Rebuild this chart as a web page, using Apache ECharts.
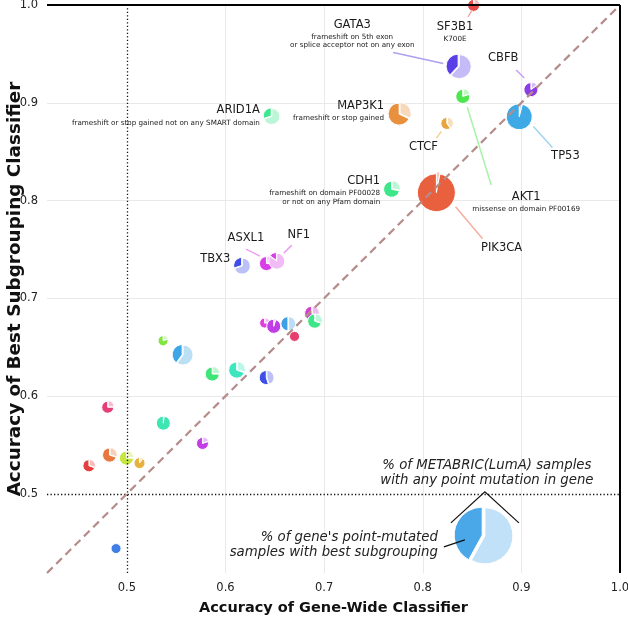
<!DOCTYPE html>
<html><head><meta charset="utf-8">
<script src="https://cdn.jsdelivr.net/npm/echarts@6/dist/echarts.min.js"></script>
<style>html,body{margin:0;padding:0;background:#fff}#c{width:628px;height:617px}</style>
</head><body><div id="c"></div>
<script>
// ---------------- data ----------------
const genes = ['SF3B1','GATA3','CBFB','AKT1','TP53','MAP3K1','CTCF','ARID1A','PIK3CA','CDH1','TBX3','ASXL1','NF1',
  '','','','','','','','','','','','','','','','','','',''];
const geneWideAcc = [0.852,0.837,0.910,0.841,0.898,0.777,0.825,0.647,0.814,0.769,0.617,0.642,0.652,
  0.688,0.691,0.640,0.649,0.664,0.670,0.557,0.587,0.612,0.642,0.537,0.481,0.537,0.577,0.483,0.500,0.513,0.462,0.489];
const bestSubgroupAcc = [1.000,0.937,0.914,0.907,0.887,0.889,0.879,0.886,0.810,0.812,0.733,0.736,0.738,
  0.685,0.677,0.675,0.672,0.674,0.661,0.642,0.623,0.627,0.619,0.657,0.589,0.573,0.552,0.540,0.537,0.532,0.529,0.444];
const mutatedPct = [4.6,18.4,6.3,6.3,21.6,15.4,4.6,8.2,46,8.2,8.2,6.3,8.2,
  6.3,6.3,3.2,6.3,6.3,3.2,12.8,6.3,8.2,6.3,3.2,4.6,6.3,4.6,6.3,6.3,3.9,4.6,3.2];
const bestSubgroupShare = [0.75,0.38,0.85,0.80,0.96,0.68,0.60,0.30,0.97,0.72,0.30,0.75,0.15,
  0.65,0.70,0.75,0.95,0.50,1.00,0.40,0.75,0.70,0.55,0.80,0.75,0.98,0.80,0.70,0.75,0.90,0.70,1.00];
const geneColors = ['#e84a4a','#5a3ee6','#8a3ee6','#4ee64e','#3fa9e6','#e8903e','#e8a43e','#3ee68e','#e8603e','#3ee68a','#3e4ee6','#d83ee6','#d83ee6',
  '#d63ed0','#3ee68a','#e03ee0','#c03ee6','#3e9ee6','#e63e6e','#3ea6e6','#3ee67a','#3ee6c0','#3e4ee6','#7ee63e','#e63e78','#3ee6b4','#c43ee6','#e8783e','#c4e63e','#e8b03e','#e63e3e','#3e7ee6'];
const tickValues = [0.5,0.6,0.7,0.8,0.9,1.0];
const gridValues = [0.6,0.7,0.8,0.9];
const axisMin = 0.419, axisMax = 1.0;
// legend key pie: [x, y, pct, share]
const keyPie = [0.863,0.457,100,0.42];
const keyColor = '#4aa8e8';

// ---------------- styling / layout ----------------
const FONT = 'DejaVu Sans';
const R_SCALE = 2.8;
const labelLayout = {
  SF3B1: {dx:-19, dy:22, sub:['K700E'], lead:[[-6,12],[-2,5]]},
  GATA3: {dx:-107, dy:-42, sub:['frameshift on 5th exon','or splice acceptor not on any exon'], lead:[[-66,-14],[-16,-3]]},
  CBFB: {dx:-28, dy:-31, lead:[[-15,-19],[-7,-11]]},
  AKT1: {dx:63, dy:101, sub:['missense on domain PF00169'], lead:[[4,11],[28,89]]},
  TP53: {dx:46, dy:41, lead:[[14,11],[33,32]]},
  MAP3K1: {dx:-16, dy:-8, align:'right', sub:['frameshift or stop gained']},
  CTCF: {dx:-24, dy:24, lead:[[-6,8],[-11,15]]},
  ARID1A: {dx:-12, dy:-6, align:'right', sub:['frameshift or stop gained not on any SMART domain']},
  PIK3CA: {dx:65, dy:57, lead:[[19,16],[46,48]]},
  CDH1: {dx:-12, dy:-8, align:'right', sub:['frameshift on domain PF00028','or not on any Pfam domain']},
  TBX3: {dx:-12, dy:-7, align:'right'},
  ASXL1: {dx:-21, dy:-25, lead:[[-21,-14],[-7,-7]]},
  NF1: {dx:22, dy:-26, lead:[[15,-16],[7,-8]]}
};

function mix(hex, t){
  const n = parseInt(hex.slice(1),16);
  let r=(n>>16)&255, g=(n>>8)&255, b=n&255;
  r=Math.round(r+(255-r)*t); g=Math.round(g+(255-g)*t); b=Math.round(b+(255-b)*t);
  return 'rgb('+r+','+g+','+b+')';
}

function pieShapes(cx, cy, r, f, col){
  const a0 = -Math.PI/2;
  const out = [];
  const e = 0.1*r;
  if (f < 0.999) {
    out.push({type:'sector', shape:{cx:cx, cy:cy, r:r, r0:0, startAngle:a0, endAngle:a0+2*Math.PI*(1-f), clockwise:true},
      style:{fill:mix(col,0.65), stroke:'#fff', lineWidth:1}});
    const mid = a0 - Math.PI*f;
    const ox = Math.cos(mid)*e, oy = Math.sin(mid)*e;
    out.push({type:'sector', shape:{cx:cx+ox, cy:cy+oy, r:r, r0:0, startAngle:a0-2*Math.PI*f, endAngle:a0, clockwise:true},
      style:{fill:col, stroke:'#fff', lineWidth:1}});
  } else {
    out.push({type:'circle', shape:{cx:cx, cy:cy, r:r}, style:{fill:col, stroke:'#fff', lineWidth:1}});
  }
  return out;
}

const pieData = genes.map((g,i)=>[geneWideAcc[i], bestSubgroupAcc[i], mutatedPct[i], bestSubgroupShare[i]]);

function lineItem(x1,y1,x2,y2){ return {coords:[[x1,y1],[x2,y2]]}; }

const chart = echarts.init(document.getElementById('c'), null, {renderer:'canvas'});
const option = {
  animation:false,
  backgroundColor:'#fff',
  grid:{left:47, right:8, top:5, bottom:44, containLabel:false, outerBoundsMode:'none'},
  xAxis:{type:'value', min:axisMin, max:axisMax,
    name:'Accuracy of Gene-Wide Classifier', nameLocation:'middle', nameGap:28, nameMoveOverlap:false,
    nameTextStyle:{fontFamily:FONT, fontWeight:'bold', fontSize:14.5, color:'#111'},
    axisLine:{show:false}, axisTick:{show:false}, splitLine:{show:false},
    axisLabel:{customValues:tickValues, formatter:v=>v.toFixed(1), fontFamily:FONT, fontSize:11.5, color:'#222', margin:9, showMaxLabel:true}},
  yAxis:{type:'value', min:axisMin, max:axisMax,
    name:'Accuracy of Best Subgrouping Classifier', nameLocation:'middle', nameGap:23, nameMoveOverlap:false,
    nameTextStyle:{fontFamily:FONT, fontWeight:'bold', fontSize:18.4, color:'#111'},
    axisLine:{show:false}, axisTick:{show:false}, splitLine:{show:false},
    axisLabel:{customValues:tickValues, formatter:v=>v.toFixed(1), fontFamily:FONT, fontSize:11.5, color:'#222', margin:9, showMaxLabel:true}},
  series:[
    {type:'lines', coordinateSystem:'cartesian2d', z:1, silent:true,
      lineStyle:{color:'#e9e9e9', width:1, opacity:1},
      data: gridValues.map(v=>lineItem(axisMin,v,axisMax,v)).concat(gridValues.map(v=>lineItem(v,axisMin,v,axisMax)))},
    {type:'custom', coordinateSystem:'cartesian2d', z:3, clip:false, silent:true,
      data: pieData,
      renderItem:function(params, api){
        const c = api.coord([api.value(0), api.value(1)]);
        const r = R_SCALE*Math.sqrt(api.value(2));
        return {type:'group', children: pieShapes(c[0], c[1], r, api.value(3), geneColors[params.dataIndex])};
      }},
    {type:'custom', coordinateSystem:'cartesian2d', z:3, clip:false, silent:true,
      data:[keyPie],
      renderItem:function(params, api){
        const c = api.coord([api.value(0), api.value(1)]);
        const r = R_SCALE*Math.sqrt(api.value(2));
        const cx=c[0], cy=c[1];
        const ch = pieShapes(cx, cy, r, api.value(3), keyColor);
        const ital = {fontFamily:FONT, fontStyle:'italic', fontSize:13.3, fill:'#222'};
        ch.push({type:'text', x:cx+2, y:cy-70, style:Object.assign({text:'% of METABRIC(LumA) samples', align:'center', verticalAlign:'middle'}, ital)});
        ch.push({type:'text', x:cx+2, y:cy-55, style:Object.assign({text:'with any point mutation in gene', align:'center', verticalAlign:'middle'}, ital)});
        ch.push({type:'polyline', shape:{points:[[cx-34,cy-13],[cx,cy-44],[cx+34,cy-13]]}, style:{stroke:'#111', lineWidth:1.2, fill:null}});
        ch.push({type:'text', x:cx-47, y:cy+2, style:Object.assign({text:"% of gene's point-mutated", align:'right', verticalAlign:'middle'}, ital)});
        ch.push({type:'text', x:cx-47, y:cy+17, style:Object.assign({text:'samples with best subgrouping', align:'right', verticalAlign:'middle'}, ital)});
        ch.push({type:'line', shape:{x1:cx-41, y1:cy+11, x2:cx-20, y2:cy+4}, style:{stroke:'#111', lineWidth:1.2}});
        return {type:'group', children:ch};
      }},
    {type:'lines', coordinateSystem:'cartesian2d', z:4, silent:true,
      lineStyle:{color:'#111', width:1.3, type:[1.3,2.2], opacity:1},
      data:[lineItem(0.5,axisMin,0.5,axisMax), lineItem(axisMin,0.5,axisMax,0.5)]},
    {type:'lines', coordinateSystem:'cartesian2d', z:4, silent:true,
      lineStyle:{color:'#b58c8a', width:2.2, type:[8,5], opacity:1},
      data:[lineItem(axisMin,axisMin,1.0,1.0)]},
    {type:'lines', coordinateSystem:'cartesian2d', z:4, silent:true,
      lineStyle:{color:'#000', width:2, opacity:1},
      data:[lineItem(axisMin,1.0,1.0,1.0), lineItem(1.0,axisMin,1.0,1.0)]},
    {type:'custom', coordinateSystem:'cartesian2d', z:5, clip:false, silent:true,
      data: genes.map((g,i)=>[geneWideAcc[i], bestSubgroupAcc[i], i]).filter(d=>labelLayout[genes[d[2]]]),
      renderItem:function(params, api){
        const idx = api.value(2);
        const g = genes[idx];
        const L = labelLayout[g];
        const c = api.coord([api.value(0), api.value(1)]);
        const col = geneColors[idx];
        const ch = [];
        if (L.lead) ch.push({type:'line', shape:{x1:c[0]+L.lead[0][0], y1:c[1]+L.lead[0][1], x2:c[0]+L.lead[1][0], y2:c[1]+L.lead[1][1]}, style:{stroke:mix(col,0.5), lineWidth:1.5}});
        const align = L.align || 'center';
        ch.push({type:'text', x:c[0]+L.dx, y:c[1]+L.dy, style:{text:g, align:align, verticalAlign:'middle', fontFamily:FONT, fontSize:11.5, fill:'#1a1a1a'}});
        (L.sub||[]).forEach((s,k)=>{
          ch.push({type:'text', x:c[0]+L.dx, y:c[1]+L.dy+12.5+k*8.5, style:{text:s, align:align, verticalAlign:'middle', fontFamily:FONT, fontSize:7.2, fill:'#1a1a1a'}});
        });
        return {type:'group', children:ch};
      }}
  ]
};
chart.setOption(option);
</script></body></html>
